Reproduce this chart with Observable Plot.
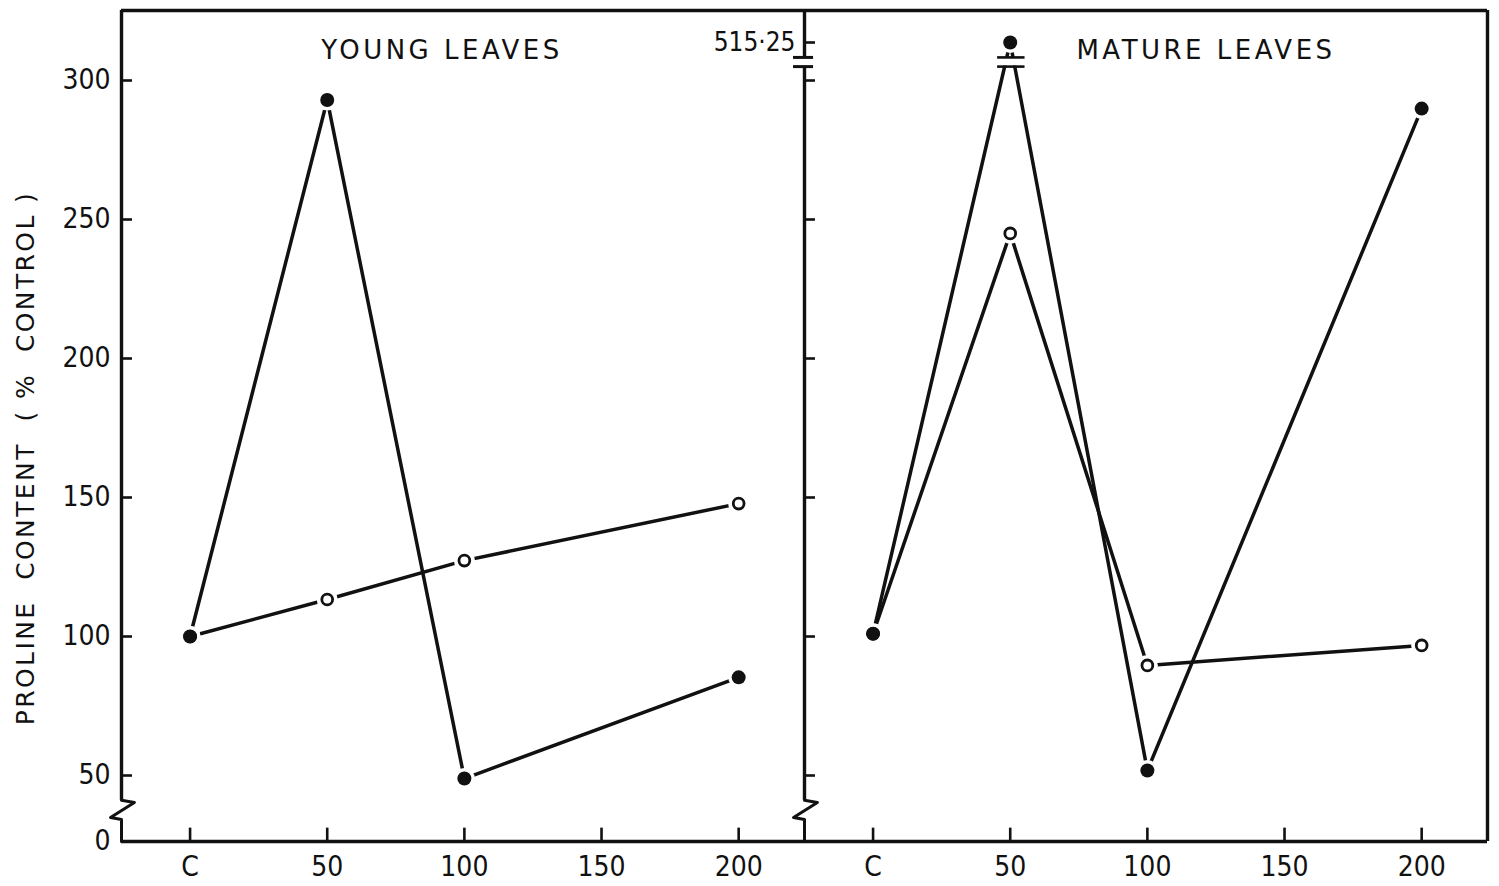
<!DOCTYPE html>
<html><head><meta charset="utf-8">
<script src="https://cdn.jsdelivr.net/npm/d3@7"></script>
<script src="https://cdn.jsdelivr.net/npm/@observablehq/plot@0.6"></script>
<style>
body{margin:0;background:#fff}
#chart svg{display:block}
.ttl text{letter-spacing:3.5px;font-family:'DejaVu Sans',sans-serif}
.ylab text{letter-spacing:2.4px;font-family:'DejaVu Sans',sans-serif}
</style>
</head><body><div id="chart"></div>
<script>
// ---- data ----
const panels = ["YOUNG LEAVES", "MATURE LEAVES"];
const doses = [0, 50, 100, 200];              // C = control
const doseTicks = [0, 50, 100, 150, 200];
const doseTickLabels = ["C", "50", "100", "150", "200"];
const youngFilled = [100, 293, 48.9, 85.3];
const youngOpen = [100, 113.3, 127.3, 147.8];
const matureFilled = [101, 515.25, 51.8, 289.9];
const matureOpen = [101, 245, 89.6, 96.8];
const yTicks = [50, 100, 150, 200, 250, 300];
const yTickLabelValues = [0, 50, 100, 150, 200, 250, 300];
const brokenValue = 515.25;
const brokenLabel = "515·25";
const yLabel = "PROLINE  CONTENT  ( %  CONTROL )";

// ---- table ----
const rows = [];
function add(panel, series, vals) {
  vals.forEach((v, i) => rows.push({panel, series, dose: doses[i], value: v}));
}
add(panels[0], "filled", youngFilled);
add(panels[0], "open", youngOpen);
add(panels[1], "filled", matureFilled);
add(panels[1], "open", matureOpen);
const filledRows = rows.filter(d => d.series === "filled");
const openRows = rows.filter(d => d.series === "open");

// ---- scale layout (broken axis) ----
const X0 = -25, X1 = 224;
const YTOP = 560;
const TICK = 4;
const XTICK = 14;
const BRK = [305, 308.3];
const ZIG = {top: 41.1, a: 40.3, b: 25.1, c: 23};
const ZIGDX = [4.7, -4.0];
const M = panels[1];

const zig = panels.flatMap(p => [
  {panel: p, x: X0, y: ZIG.top},
  {panel: p, x: X0 + ZIGDX[0], y: ZIG.a},
  {panel: p, x: X0 + ZIGDX[1], y: ZIG.b},
  {panel: p, x: X0, y: ZIG.c},
  {panel: p, x: X0, y: 0}
]);

const font = "'DejaVu Sans Condensed','DejaVu Sans',sans-serif";
const ink = "#111";
const SW = 3.4;

const chart = Plot.plot({
  width: 1499,
  height: 886,
  marginLeft: 120,
  marginRight: 12,
  marginTop: 10,
  marginBottom: 45,
  style: {fontFamily: font, background: "white", color: ink},
  fx: {domain: panels, padding: 0, axis: null},
  x: {domain: [X0, X1], axis: null},
  y: {type: "linear", domain: [0, 40, 310, brokenValue, YTOP], range: [841, 802.8, 52.2, 42, 10], axis: null},
  marks: [
    Plot.ruleY([YTOP], {stroke: ink, strokeWidth: SW}),
    Plot.ruleY([0], {stroke: ink, strokeWidth: SW}),
    Plot.ruleX([{panel: M}], {fx: "panel", x: X1, y1: 0, y2: YTOP, stroke: ink, strokeWidth: SW}),
    Plot.ruleX([{panel: panels[0]}], {fx: "panel", x: X0, y1: ZIG.top, y2: YTOP, stroke: ink, strokeWidth: SW}),
    Plot.ruleX([{panel: M, a: ZIG.top, b: BRK[0]}, {panel: M, a: BRK[1], b: YTOP}], {fx: "panel", x: X0, y1: "a", y2: "b", stroke: ink, strokeWidth: SW}),
    Plot.line(zig, {fx: "panel", x: "x", y: "y", z: "panel", stroke: ink, strokeWidth: 3}),
    Plot.ruleY(BRK.map(v => ({panel: M, v})), {fx: "panel", y: "v", x1: X0 - 4, x2: X0 + 3.3, stroke: ink, strokeWidth: 3}),
    Plot.ruleY(yTicks, {y: d => d, x1: X0, x2: X0 + TICK, stroke: ink, strokeWidth: 2.6}),
    Plot.ruleY([{panel: M, v: brokenValue}], {fx: "panel", y: "v", x1: X0, x2: X0 + TICK, stroke: ink, strokeWidth: 2.6}),
    Plot.ruleX(doseTicks, {x: d => d, y1: 0, y2: XTICK, stroke: ink, strokeWidth: 2.6}),
    Plot.text(yTickLabelValues.map(v => ({panel: panels[0], v})), {fx: "panel", y: "v", text: d => String(d.v), frameAnchor: "left", dx: -11, textAnchor: "end", lineAnchor: "middle", fontSize: 28, fill: ink}),
    Plot.text([{panel: M, v: brokenValue}], {fx: "panel", y: "v", text: () => brokenLabel, frameAnchor: "left", dx: -9, textAnchor: "end", lineAnchor: "middle", fontSize: 26, fill: ink}),
    Plot.text(doseTicks, {x: d => d, text: (d, i) => doseTickLabels[i], frameAnchor: "bottom", dy: 26, lineAnchor: "middle", fontSize: 28, fill: ink}),
    Plot.text([{panel: panels[0]}], {fx: "panel", text: () => yLabel, frameAnchor: "left", textAnchor: "middle", lineAnchor: "middle", rotate: -90, dx: -96, dy: 32, fontSize: 25, fill: ink, className: "ylab"}),
    Plot.text([{panel: panels[0]}], {fx: "panel", text: "panel", frameAnchor: "top", textAnchor: "middle", lineAnchor: "middle", dy: 40, dx: -21, fontSize: 26, fill: ink, className: "ttl"}),
    Plot.text([{panel: M}], {fx: "panel", text: "panel", frameAnchor: "top", textAnchor: "middle", lineAnchor: "middle", dy: 40, dx: 60, fontSize: 26, fill: ink, className: "ttl"}),
    Plot.line(rows, {fx: "panel", x: "dose", y: "value", z: "series", stroke: ink, strokeWidth: 3.5}),
    Plot.rect([{panel: M}], {fx: "panel", x1: 50 - 4.5, x2: 50 + 5.5, y1: BRK[0] + 0.2, y2: BRK[1] - 0.2, fill: "white"}),
    Plot.ruleY(BRK.map(v => ({panel: M, v})), {fx: "panel", y: "v", x1: 50 - 4.6, x2: 50 + 5.4, stroke: ink, strokeWidth: 2.6}),
    Plot.dot(rows, {fx: "panel", x: "dose", y: "value", r: 10.5, fill: "white"}),
    Plot.dot(openRows, {fx: "panel", x: "dose", y: "value", r: 5.4, fill: "white", stroke: ink, strokeWidth: 2.8}),
    Plot.dot(filledRows, {fx: "panel", x: "dose", y: "value", r: 7, fill: ink})
  ]
});
document.getElementById("chart").appendChild(chart);
</script>
</body></html>
